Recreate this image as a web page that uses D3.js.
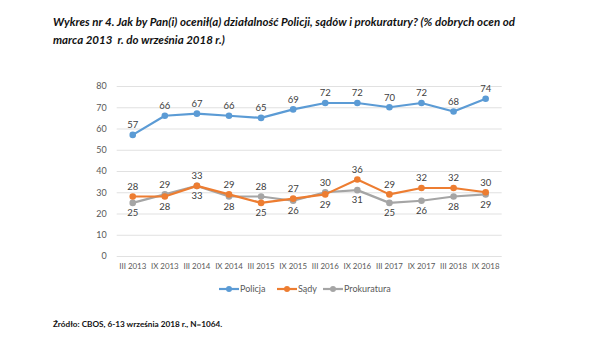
<!DOCTYPE html>
<html><head><meta charset="utf-8">
<script src="https://cdn.jsdelivr.net/npm/d3@7"></script>
<style>body{margin:0;background:#fff}svg{display:block}</style>
</head><body><svg id="c" width="600" height="360"></svg>
<script>
const categories = ["III 2013","IX 2013","III 2014","IX 2014","III 2015","IX 2015","III 2016","IX 2016","III 2017","IX 2017","III 2018","IX 2018"];
const policja = [57,66,67,66,65,69,72,72,70,72,68,74];
const sady = [28,28,33,29,25,27,29,36,29,32,32,30];
const prokuratura = [25,29,33,28,28,26,30,31,25,26,28,29];
const yTicks = [0,10,20,30,40,50,60,70,80];
const seriesNames = ["Policja","Sądy","Prokuratura"];
const titleLines = ["Wykres nr 4. Jak by Pan(i) ocenił(a) działalność Policji, sądów i prokuratury? (% dobrych ocen od","marca 2013  r. do września 2018 r.)"];
const sourceText = "Źródło: CBOS, 6-13 września 2018 r., N=1064.";

const colors = ["#5B9BD5","#ED7D31","#A5A5A5"];
const font = "Lato, 'Open Sans', sans-serif";
const svg = d3.select("#c");

const x = d3.scaleBand().domain(categories).range([116.7, 501.7]);
const y = d3.scaleLinear().domain([0,80]).range([256, 86]);
const cx = d => x(d) + x.bandwidth()/2;

// title
svg.append("text").attr("x",53).attr("y",26).attr("font-family",font).attr("font-weight","bold").attr("font-style","italic")
  .attr("font-size",11.5).attr("fill","#111").attr("textLength",462).attr("lengthAdjust","spacing").text(titleLines[0]);
svg.append("text").attr("x",53).attr("y",44).attr("font-family",font).attr("font-weight","bold").attr("font-style","italic")
  .attr("font-size",11.5).attr("fill","#111").style("white-space","pre").text(titleLines[1]);

// grid
const ya = d3.axisLeft(y).tickValues(yTicks).tickSize(-(501.7-116.7)).tickPadding(10);
const gy = svg.append("g").attr("transform","translate(116.7,0)").call(ya);
gy.select(".domain").remove();
gy.selectAll(".tick line").attr("stroke","#D9D9D9").attr("stroke-width",0.8);
gy.selectAll(".tick text").attr("font-family",font).attr("font-size",9).attr("fill","#595959");

const xa = d3.axisBottom(x).tickSize(0).tickPadding(7);
const gx = svg.append("g").attr("transform","translate(0,256)").call(xa);
gx.select(".domain").remove();
gx.selectAll(".tick text").attr("font-family",font).attr("font-size",7.9).attr("fill","#595959");

const allSeries = [policja, sady, prokuratura];
const line = d3.line().x((d,i)=>cx(categories[i])).y(d=>y(d));

[2,1,0].forEach(s => {
  svg.append("path").datum(allSeries[s]).attr("d",line).attr("fill","none")
    .attr("stroke",colors[s]).attr("stroke-width",2.2).attr("stroke-linejoin","round");
  svg.append("g").selectAll("circle").data(allSeries[s]).join("circle")
    .attr("cx",(d,i)=>cx(categories[i])).attr("cy",d=>y(d)).attr("r",3.3).attr("fill",colors[s]);
});

function addLabels(vals, placeFn){
  svg.append("g").selectAll("text").data(vals).join("text")
    .attr("x",(d,i)=>cx(categories[i])).attr("y",(d,i)=> y(d) + (placeFn(i) ? -10 : 10))
    .attr("dy","0.35em").attr("text-anchor","middle").attr("font-family",font).attr("font-size",9.5).attr("fill","#404040")
    .text(d=>d);
}
addLabels(policja, ()=>true);
addLabels(sady, i => sady[i] >= prokuratura[i]);
addLabels(prokuratura, i => prokuratura[i] > sady[i]);

const legX = [219, 277, 323];
seriesNames.forEach((n,i)=>{
  const g = svg.append("g").attr("transform",`translate(${legX[i]},289)`);
  g.append("line").attr("x1",0).attr("x2",20).attr("stroke",colors[i]).attr("stroke-width",2.2);
  g.append("circle").attr("cx",10).attr("r",3).attr("fill",colors[i]);
  g.append("text").attr("x",21).attr("dy","0.35em").attr("font-family",font).attr("font-size",9).attr("fill","#595959").text(n);
});

svg.append("text").attr("x",53).attr("y",327).attr("font-family",font).attr("font-weight","bold")
  .attr("font-size",8.2).attr("fill","#111").text(sourceText);
</script></body></html>
